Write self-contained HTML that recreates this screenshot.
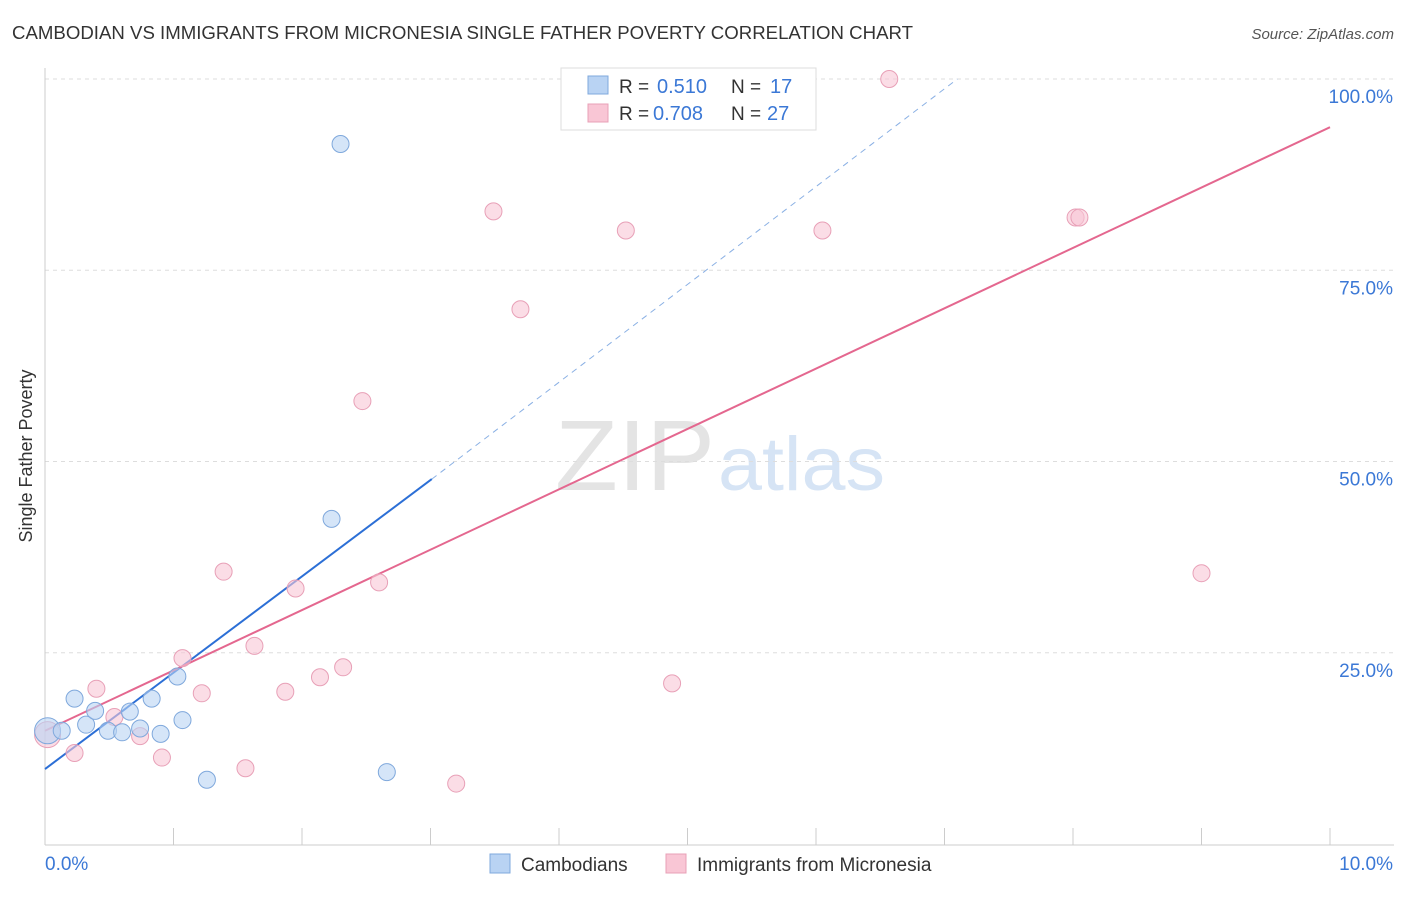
<!DOCTYPE html>
<html><head><meta charset="utf-8">
<style>
body{margin:0;background:#fff;font-family:"Liberation Sans",sans-serif;}
svg text{font-family:"Liberation Sans",sans-serif;}
</style></head>
<body>
<svg id="chart" width="1406" height="892" xmlns="http://www.w3.org/2000/svg">
<text x="12" y="39" font-size="18" fill="#333" textLength="901" lengthAdjust="spacingAndGlyphs">CAMBODIAN VS IMMIGRANTS FROM MICRONESIA SINGLE FATHER POVERTY CORRELATION CHART</text>
<text x="1394" y="39" font-size="15" fill="#555" text-anchor="end" font-style="italic">Source: ZipAtlas.com</text>
<text x="555" y="490" font-size="100" fill="#e4e4e4" textLength="160" lengthAdjust="spacingAndGlyphs" font-family="Liberation Serif">ZIP</text>
<text x="718" y="490" font-size="76" fill="#d6e4f5" textLength="167" lengthAdjust="spacingAndGlyphs">atlas</text>
<text x="32" y="456" font-size="18" fill="#333" text-anchor="middle" transform="rotate(-90 32 456)">Single Father Poverty</text>
<g id="grid"></g><g id="axes"></g><g id="lines"></g><g id="points"></g>
<g>
<rect x="561" y="68" width="255" height="62" fill="#fff" stroke="#ddd"/>
<rect x="588" y="76" width="20" height="18" fill="#b9d3f3" stroke="#7fa8dc"/>
<text x="619" y="93" font-size="19" fill="#333">R =</text>
<text x="657" y="93" font-size="20" fill="#3b78d6">0.510</text>
<text x="731" y="93" font-size="19" fill="#333">N =</text>
<text x="770" y="93" font-size="20" fill="#3b78d6">17</text>
<rect x="588" y="104" width="20" height="18" fill="#f9c6d5" stroke="#e8a0b7"/>
<text x="619" y="120" font-size="19" fill="#333">R =</text>
<text x="653" y="120" font-size="20" fill="#3b78d6">0.708</text>
<text x="731" y="120" font-size="19" fill="#333">N =</text>
<text x="767" y="120" font-size="20" fill="#3b78d6">27</text>
</g>
<g>
<rect x="490" y="854" width="20" height="19" fill="#b9d3f3" stroke="#7fa8dc"/>
<text x="521" y="871" font-size="19" fill="#333">Cambodians</text>
<rect x="666" y="854" width="20" height="19" fill="#f9c6d5" stroke="#e8a0b7"/>
<text x="697" y="871" font-size="19" fill="#333">Immigrants from Micronesia</text>
</g>
</svg>
<script>
const yTicks=[25,50,75,100];
const yTickLabels=["25.0%","50.0%","75.0%","100.0%"];
const xTickCount=10;
const camX=[0.02,0.13,0.23,0.32,0.39,0.49,0.60,0.66,0.74,0.83,0.90,1.03,1.07,1.26,2.23,2.30,2.66];
const camY=[14.8,14.8,19.0,15.6,17.4,14.8,14.6,17.3,15.1,19.0,14.4,21.9,16.2,8.4,42.5,91.5,9.4];
const micX=[0.02,0.23,0.40,0.54,0.74,0.91,1.07,1.22,1.39,1.56,1.63,1.87,1.95,2.14,2.32,2.47,2.60,3.20,3.49,3.70,4.52,4.88,6.05,6.57,8.02,8.05,9.00];
const micY=[14.3,11.9,20.3,16.6,14.1,11.3,24.3,19.7,35.6,9.9,25.9,19.9,33.4,21.8,23.1,57.9,34.2,7.9,82.7,69.9,80.2,21.0,80.2,100.0,81.9,81.9,35.4];
const camLine=[[0,9.8],[3.01,47.7]];
const camDash=[[3.01,47.7],[7.1,100]];
const micLine=[[0,14.8],[10,93.7]];
const X=v=>45+v*128.5, Y=v=>844-v*7.65;
const NS="http://www.w3.org/2000/svg";
function mk(tag,attrs,parent){const e=document.createElementNS(NS,tag);for(const k in attrs)e.setAttribute(k,attrs[k]);document.getElementById(parent).appendChild(e);return e;}
yTicks.forEach((t,i)=>{
 const g=mk('line',{x1:45,x2:1394,y1:Y(t),y2:Y(t),stroke:'#ddd','stroke-dasharray':'4,4'},'grid');
 
 
 const l=mk('text',{x:1393,y:Y(t)+24,'font-size':19,fill:'#3b78d6','text-anchor':'end'},'axes');
 l.textContent=yTickLabels[i];
 
 
});
const ax=mk('line',{x1:45,x2:45,y1:68,y2:845,stroke:'#ccc'},'axes');


const bx=mk('line',{x1:45,x2:1394,y1:845,y2:845,stroke:'#ccc'},'axes');


for(let i=1;i<=xTickCount;i++){
 const t=mk('line',{x1:X(i),x2:X(i),y1:828,y2:845,stroke:'#ccc'},'axes');
 
 
}
const x0=mk('text',{x:45,y:870,'font-size':19,fill:'#3b78d6'},'axes');x0.textContent='0.0%';


const x1=mk('text',{x:1393,y:870,'font-size':19,fill:'#3b78d6','text-anchor':'end'},'axes');x1.textContent='10.0%';


function ln(p,attrs,name){const e=mk('line',Object.assign({x1:X(p[0][0]),y1:Y(p[0][1]),x2:X(p[1][0]),y2:Y(p[1][1])},attrs),'lines');
 
 }
ln(camDash,{stroke:'#8ab0e4','stroke-width':1,'stroke-dasharray':'6,5'},'cambodian-trend-extension');
ln(camLine,{stroke:'#2c6fd6','stroke-width':2},'cambodian-trend-line');
ln(micLine,{stroke:'#e4678f','stroke-width':2},'micronesia-trend-line');
micX.forEach((x,i)=>{const c=mk('circle',{cx:X(x),cy:Y(micY[i]),r:i==0?13:8.5,fill:'#f9c6d5','fill-opacity':0.6,stroke:'#e8a0b7'},'points');
 
 });
camX.forEach((x,i)=>{const c=mk('circle',{cx:X(x),cy:Y(camY[i]),r:i==0?13:8.5,fill:'#b9d3f3','fill-opacity':0.6,stroke:'#7fa8dc'},'points');
 
 });
</script>
</body></html>
